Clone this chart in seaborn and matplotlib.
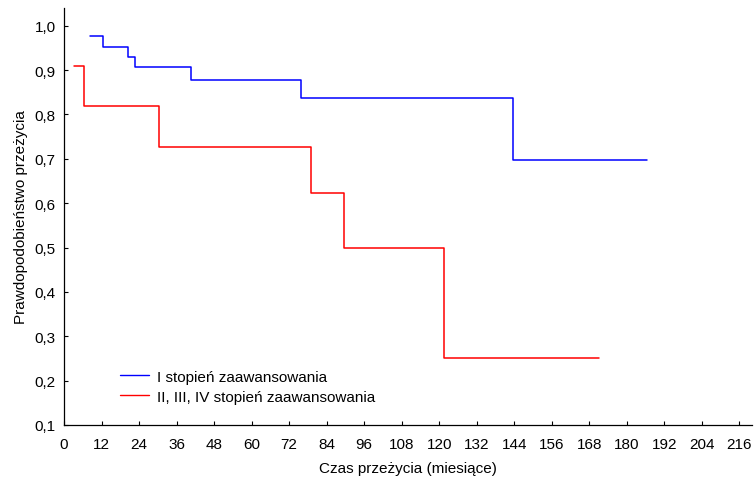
import matplotlib
matplotlib.use("Agg")
import matplotlib.pyplot as plt
import matplotlib.ticker as mticker
import seaborn as sns
import pandas as pd

# Kaplan-Meier survival estimates (step functions: time in months, probability)
stage1_label = "I stopień zaawansowania"
stage1_time = [8.3, 12.5, 20.4, 22.7, 40.6, 75.7, 143.5, 186.5]
stage1_surv = [0.977, 0.953, 0.930, 0.907, 0.878, 0.837, 0.697, 0.697]

stage234_label = "II, III, IV stopień zaawansowania"
stage234_time = [3.2, 6.5, 30.4, 79.1, 89.6, 121.5, 171.0]
stage234_surv = [0.909, 0.818, 0.727, 0.623, 0.500, 0.250, 0.250]

x_ticks = list(range(0, 217, 12))
y_ticks = [0.1, 0.2, 0.3, 0.4, 0.5, 0.6, 0.7, 0.8, 0.9, 1.0]

df = pd.concat([
    pd.DataFrame({"t": stage1_time, "s": stage1_surv, "grupa": stage1_label}),
    pd.DataFrame({"t": stage234_time, "s": stage234_surv, "grupa": stage234_label}),
], ignore_index=True)

sns.set_theme(style="white")
plt.rcParams["font.family"] = ["Liberation Sans", "DejaVu Sans"]
plt.rcParams["text.color"] = "black"
plt.rcParams["axes.labelcolor"] = "black"

fs = 11
fig = plt.figure(figsize=(7.54, 4.81), dpi=100)
ax = fig.add_axes([64 / 754, (481 - 426) / 481, (752 - 64) / 754, (426 - 9) / 481])

sns.lineplot(data=df, x="t", y="s", hue="grupa", drawstyle="steps-post",
             palette={stage1_label: "#0000ff", stage234_label: "#ff0000"},
             linewidth=1.1, ax=ax, estimator=None, sort=True)

ax.set_xlim(0, 220)
ax.set_ylim(0.1, 1.04)
ax.set_xticks(x_ticks)
ax.set_yticks(y_ticks)
ax.yaxis.set_major_formatter(mticker.FuncFormatter(lambda v, p: f"{v:.1f}".replace(".", ",")))
ax.tick_params(axis="both", direction="in", length=3, width=0.8, color="black",
               labelsize=fs, labelcolor="black", bottom=True, left=True)
ax.tick_params(axis="x", pad=9)
ax.tick_params(axis="y", pad=6)
for side in ["top", "right"]:
    ax.spines[side].set_visible(False)
for side in ["left", "bottom"]:
    ax.spines[side].set_color("black")
    ax.spines[side].set_linewidth(0.9)

ax.set_xlabel("Czas przeżycia (miesiące)", fontsize=fs, labelpad=7, color="black")
ax.set_ylabel("Prawdopodobieństwo przeżycia", fontsize=fs, labelpad=5, color="black")

leg = ax.legend(loc="lower left", bbox_to_anchor=(0.062, 0.018), frameon=False,
                fontsize=fs, handlelength=1.85, handletextpad=0.55, labelspacing=0.4,
                title=None)
for line in leg.get_lines():
    line.set_linewidth(1.0)
for txt in leg.get_texts():
    txt.set_color("black")

fig.savefig("out.png", dpi=100)
